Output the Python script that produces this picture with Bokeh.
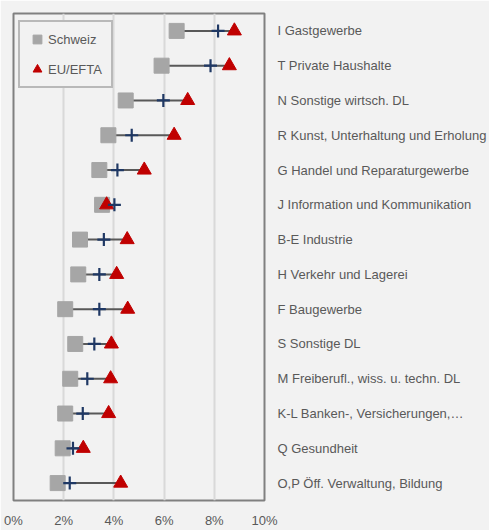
from bokeh.plotting import figure
from bokeh.models import (FixedTicker, PrintfTickFormatter, Legend, LegendItem,
                          ColumnDataSource, FactorRange)
from bokeh.embed import file_html
from bokeh.resources import INLINE

categories = [
    "I Gastgewerbe",
    "T Private Haushalte",
    "N Sonstige wirtsch. DL",
    "R Kunst, Unterhaltung und Erholung",
    "G Handel und Reparaturgewerbe",
    "J Information und Kommunikation",
    "B-E Industrie",
    "H Verkehr und Lagerei",
    "F Baugewerbe",
    "S Sonstige DL",
    "M Freiberufl., wiss. u. techn. DL",
    "K-L Banken-, Versicherungen,…",
    "Q Gesundheit",
    "O,P Öff. Verwaltung, Bildung",
]
schweiz = [6.5, 5.9, 4.47, 3.78, 3.42, 3.53, 2.65, 2.58, 2.06, 2.46, 2.26, 2.06, 1.96, 1.76]
eu_efta = [8.8, 8.6, 6.94, 6.4, 5.21, 3.71, 4.53, 4.11, 4.55, 3.9, 3.87, 3.79, 2.78, 4.27]
total = [8.15, 7.85, 5.97, 4.71, 4.14, 4.02, 3.6, 3.42, 3.42, 3.22, 2.94, 2.76, 2.37, 2.24]
x_ticks = [0, 2, 4, 6, 8, 10]

source = ColumnDataSource(dict(cat=categories, ch=schweiz, eu=eu_efta, tot=total))

BG = "#f2f2f2"
TXT = "#595959"
FONT = "Liberation Sans"

p = figure(width=489, height=530,
           y_range=FactorRange(factors=categories[::-1], range_padding=0),
           x_range=(0, 10),
           output_backend="svg", toolbar_location=None,
           y_axis_location="right",
           min_border_left=13, min_border_top=13, min_border_bottom=27, min_border_right=225)

p.background_fill_color = BG
p.border_fill_color = BG
p.outline_line_color = "#808080"
p.outline_line_width = 2

p.segment(x0="ch", y0="cat", x1="eu", y1="cat", source=source,
          line_color=TXT, line_width=2)
r_ch = p.scatter(x="ch", y="cat", source=source, marker="square", size=15,
                 fill_color="#a6a6a6", line_color="#a6a6a6", line_width=1)
r_eu = p.scatter(x="eu", y="cat", source=source, marker="triangle", size=14,
                 fill_color="#c00000", line_color="#c00000", line_width=1)
p.scatter(x="tot", y="cat", source=source, marker="cross", size=13,
          line_color="#1f3864", line_width=2.2)

# grid
p.ygrid.grid_line_color = None
p.xgrid.ticker = FixedTicker(ticks=x_ticks)
p.xgrid.grid_line_color = "#d9d9d9"
p.xgrid.grid_line_width = 2

# x axis
p.xaxis.ticker = FixedTicker(ticks=x_ticks)
p.xaxis.formatter = PrintfTickFormatter(format="%d%%")
p.xaxis.axis_line_color = None
p.xaxis.major_tick_line_color = None
p.xaxis.minor_tick_line_color = None
p.xaxis.major_tick_out = 0
p.xaxis.major_tick_in = 0
p.xaxis.minor_tick_out = 0
p.xaxis.major_label_standoff = 12
p.xaxis.major_label_text_font = FONT
p.xaxis.major_label_text_font_size = "13px"
p.xaxis.major_label_text_color = TXT

# y axis (right)
p.yaxis.axis_line_color = None
p.yaxis.major_tick_line_color = None
p.yaxis.minor_tick_line_color = None
p.yaxis.major_tick_out = 0
p.yaxis.major_tick_in = 0
p.yaxis.minor_tick_out = 0
p.yaxis.major_label_standoff = 13
p.yaxis.major_label_text_font = FONT
p.yaxis.major_label_text_font_size = "13px"
p.yaxis.major_label_text_color = TXT

legend = Legend(items=[LegendItem(label="Schweiz", renderers=[r_ch]),
                       LegendItem(label="EU/EFTA", renderers=[r_eu])],
                location=(5, 412))
legend.glyph_width = 22
legend.glyph_height = 22
legend.label_standoff = 0
legend.label_width = 57
legend.spacing = 8
legend.padding = 6
legend.margin = 0
legend.border_line_color = "#808080"
legend.border_line_width = 2
legend.background_fill_color = BG
legend.background_fill_alpha = 1
legend.label_text_font = FONT
legend.label_text_font_size = "13px"
legend.label_text_color = TXT
p.add_layout(legend)

open("out.html", "w").write(file_html(p, INLINE))
